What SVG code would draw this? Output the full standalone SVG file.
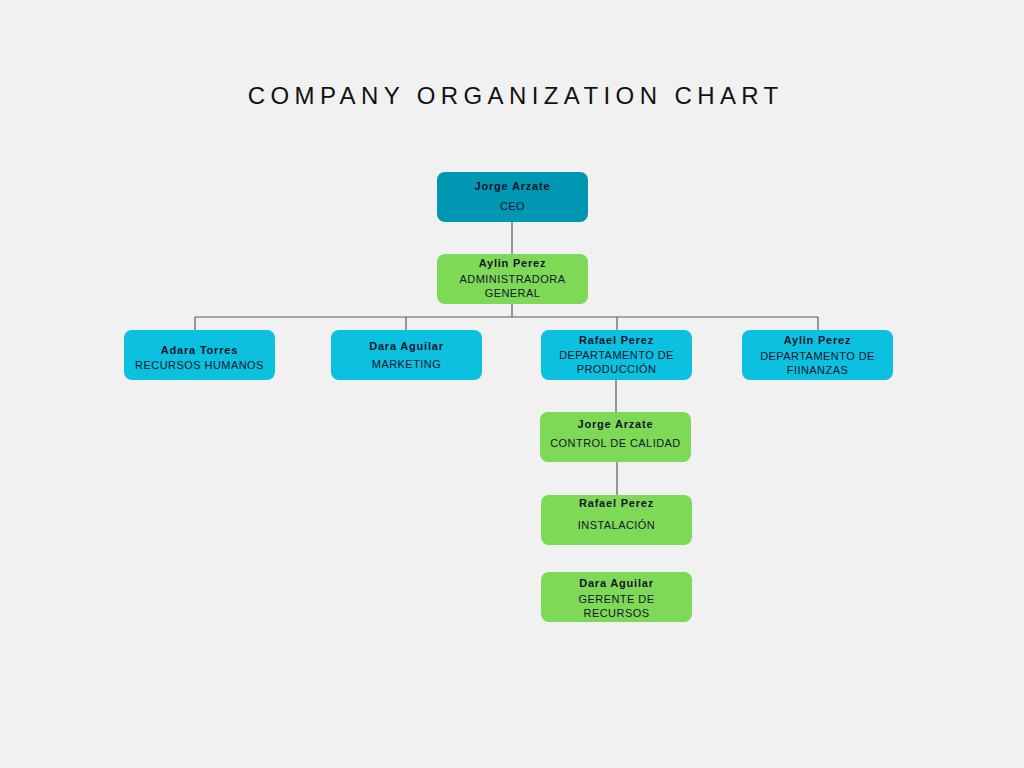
<svg xmlns="http://www.w3.org/2000/svg" width="1024" height="768" viewBox="0 0 1024 768">
<style>
.bg{fill:#f1f1f1}
.title{font-family:"Liberation Sans",Arial,sans-serif;font-size:24px;letter-spacing:5.4px;fill:#111;text-anchor:middle}
.nm{font-family:"Liberation Sans",Arial,sans-serif;font-size:11px;font-weight:bold;letter-spacing:0.8px;fill:#14142b;text-anchor:middle}
.rl{font-family:"Liberation Sans",Arial,sans-serif;font-size:11px;letter-spacing:0.45px;fill:#14142b;text-anchor:middle}
.ceo{fill:#0097b2}
.blue{fill:#0cc0df}
.green{fill:#7ed957}
.conn line{stroke:#5a5a5a;stroke-width:1.2}
</style>
<rect class="bg" x="0" y="0" width="1024" height="768"/>
<text class="title" x="515.7" y="104">COMPANY ORGANIZATION CHART</text>
<g id="connectors" class="conn">
<line x1="512" y1="222" x2="512" y2="254"/>
<line x1="512" y1="304" x2="512" y2="317"/>
<line x1="195" y1="317" x2="818" y2="317"/>
<line x1="195" y1="317" x2="195" y2="330"/>
<line x1="406" y1="317" x2="406" y2="330"/>
<line x1="617" y1="317" x2="617" y2="330"/>
<line x1="818" y1="317" x2="818" y2="330"/>
<line x1="616" y1="380" x2="616" y2="412"/>
<line x1="617" y1="462" x2="617" y2="495"/>
</g>
<g id="ceo">
<rect class="ceo" x="437" y="172" width="151" height="50" rx="8"/>
<text class="nm" x="512.5" y="190">Jorge Arzate</text>
<text class="rl" x="512.5" y="210">CEO</text>
</g>
<g id="admin">
<rect class="green" x="437" y="254" width="151" height="50" rx="8"/>
<text class="nm" x="512.5" y="267">Aylin Perez</text>
<text class="rl" x="512.5" y="283">ADMINISTRADORA</text>
<text class="rl" x="512.5" y="297">GENERAL</text>
</g>
<g id="rrhh">
<rect class="blue" x="124" y="330" width="151" height="50" rx="8"/>
<text class="nm" x="199.5" y="354">Adara Torres</text>
<text class="rl" x="199.5" y="369">RECURSOS HUMANOS</text>
</g>
<g id="marketing">
<rect class="blue" x="331" y="330" width="151" height="50" rx="8"/>
<text class="nm" x="406.5" y="350">Dara Aguilar</text>
<text class="rl" x="406.5" y="368">MARKETING</text>
</g>
<g id="produccion">
<rect class="blue" x="541" y="330" width="151" height="50" rx="8"/>
<text class="nm" x="616.5" y="344">Rafael Perez</text>
<text class="rl" x="616.5" y="359">DEPARTAMENTO DE</text>
<text class="rl" x="616.5" y="373">PRODUCCIÓN</text>
</g>
<g id="finanzas">
<rect class="blue" x="742" y="330" width="151" height="50" rx="8"/>
<text class="nm" x="817.5" y="344">Aylin Perez</text>
<text class="rl" x="817.5" y="360">DEPARTAMENTO DE</text>
<text class="rl" x="817.5" y="374">FIINANZAS</text>
</g>
<g id="calidad">
<rect class="green" x="540" y="412" width="151" height="50" rx="8"/>
<text class="nm" x="615.5" y="428">Jorge Arzate</text>
<text class="rl" x="615.5" y="447">CONTROL DE CALIDAD</text>
</g>
<g id="instalacion">
<rect class="green" x="541" y="495" width="151" height="50" rx="8"/>
<text class="nm" x="616.5" y="507">Rafael Perez</text>
<text class="rl" x="616.5" y="529">INSTALACIÓN</text>
</g>
<g id="gerente">
<rect class="green" x="541" y="572" width="151" height="50" rx="8"/>
<text class="nm" x="616.5" y="587">Dara Aguilar</text>
<text class="rl" x="616.5" y="603">GERENTE DE</text>
<text class="rl" x="616.5" y="617">RECURSOS</text>
</g>
</svg>
